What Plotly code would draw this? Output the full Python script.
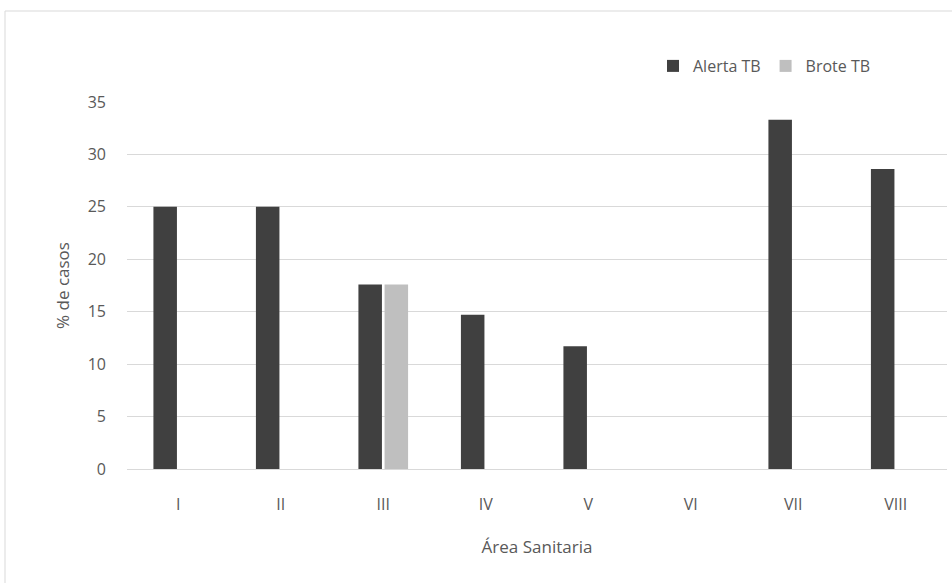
import plotly.graph_objects as go

areas = ["I", "II", "III", "IV", "V", "VI", "VII", "VIII"]
alerta_tb = [25, 25, 17.6, 14.7, 11.7, 0, 33.3, 28.6]
brote_tb = [0, 0, 17.6, 0, 0, 0, 0, 0]
y_ticks = [0, 5, 10, 15, 20, 25, 30, 35]

FONT = "Open Sans"
TEXT = "#595959"

fig = go.Figure()
fig.add_trace(go.Bar(x=areas, y=alerta_tb, name="Alerta TB",
                     marker=dict(color="#404040", line=dict(width=0))))
fig.add_trace(go.Bar(x=areas, y=brote_tb, name="Brote TB",
                     marker=dict(color="#bfbfbf", line=dict(width=0))))

L, R, T, B = 127, 5, 102, 114
W, H = 952, 583
pw, ph = W - L - R, H - T - B

fig.update_layout(
    width=W, height=H,
    margin=dict(l=L, r=R, t=T, b=B),
    paper_bgcolor="white", plot_bgcolor="white",
    barmode="group", bargap=0.49, bargroupgap=0.1,
    font=dict(family=FONT, size=16, color=TEXT),
    showlegend=True,
    legend=dict(orientation="h", x=(876 - L) / pw, xanchor="right",
                y=1 + (T - 66) / ph, yanchor="middle",
                font=dict(size=16, color=TEXT), itemwidth=30,
                bgcolor="rgba(0,0,0,0)"),
    xaxis=dict(title=dict(text="Área Sanitaria", standoff=26,
                          font=dict(size=17, color=TEXT)),
               showline=True, linecolor="#d9d9d9", linewidth=1,
               ticks="", ticklabelstandoff=21,
               tickfont=dict(size=16, color=TEXT)),
    yaxis=dict(title=dict(text="% de casos", standoff=13,
                          font=dict(size=17, color=TEXT)),
               range=[0, 35], tickvals=y_ticks, showgrid=True,
               gridcolor="#d9d9d9", gridwidth=1, zeroline=False,
               showline=False, ticks="", ticklabelstandoff=20,
               tickfont=dict(size=16, color=TEXT)),
    shapes=[dict(type="rect", xref="paper", yref="paper",
                 x0=(5 - L) / pw, x1=(W + 10 - L) / pw,
                 y0=-(B + 10) / ph, y1=1 + (T - 11) / ph,
                 line=dict(color="#d9d9d9", width=1), layer="below")],
)

fig.write_html("out.html")
